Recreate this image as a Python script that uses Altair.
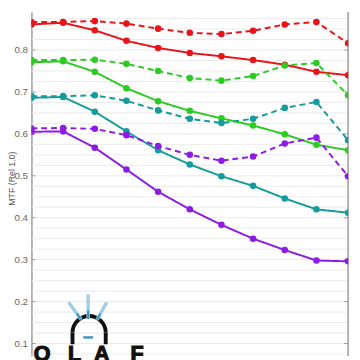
import math
import altair as alt
import pandas as pd

# ---- data ----
X = [0, 1, 2, 3, 4, 5, 6, 7, 8, 9, 10]
RED_SOLID = [0.861, 0.865, 0.847, 0.822, 0.805, 0.793, 0.785, 0.776, 0.765, 0.748, 0.740]
RED_DASH = [0.867, 0.867, 0.869, 0.863, 0.851, 0.841, 0.838, 0.846, 0.861, 0.867, 0.816]
GREEN_SOLID = [0.771, 0.773, 0.748, 0.709, 0.678, 0.655, 0.637, 0.620, 0.599, 0.574, 0.561]
GREEN_DASH = [0.776, 0.776, 0.777, 0.767, 0.750, 0.733, 0.727, 0.738, 0.763, 0.769, 0.692]
TEAL_SOLID = [0.686, 0.688, 0.653, 0.606, 0.561, 0.527, 0.499, 0.476, 0.446, 0.420, 0.412]
TEAL_DASH = [0.690, 0.690, 0.692, 0.679, 0.656, 0.636, 0.626, 0.636, 0.662, 0.676, 0.585]
PURPLE_SOLID = [0.605, 0.606, 0.567, 0.515, 0.462, 0.420, 0.383, 0.350, 0.323, 0.298, 0.296]
PURPLE_DASH = [0.613, 0.614, 0.612, 0.597, 0.571, 0.550, 0.536, 0.546, 0.577, 0.591, 0.499]
X_BLACK = [8, 9, 10]
BLACK_SOLID = [0.930, 0.909, 0.908]

TICK_VALUES = [0.1, 0.2, 0.3, 0.4, 0.5, 0.6, 0.7, 0.8]
GRID_VALUES = [0.075, 0.1, 0.125, 0.15, 0.175, 0.2, 0.225, 0.25, 0.275, 0.3, 0.325,
               0.35, 0.375, 0.4, 0.425, 0.45, 0.475, 0.5, 0.525, 0.55, 0.575, 0.6,
               0.625, 0.65, 0.675, 0.7, 0.725, 0.75, 0.775, 0.8, 0.825, 0.85, 0.875]
LOGO_LETTERS = ["O", "L", "A", "F"]
Y_TITLE = "MTF (Rel 1.0)"

# ---- build tables ----
rows = []
for name, kind, xs, vals in [
    ("red", "solid", X, RED_SOLID), ("red", "dashed", X, RED_DASH),
    ("green", "solid", X, GREEN_SOLID), ("green", "dashed", X, GREEN_DASH),
    ("teal", "solid", X, TEAL_SOLID), ("teal", "dashed", X, TEAL_DASH),
    ("purple", "solid", X, PURPLE_SOLID), ("purple", "dashed", X, PURPLE_DASH),
    ("black", "solid", X_BLACK, BLACK_SOLID),
]:
    for x, v in zip(xs, vals):
        rows.append({"x": x, "v": v, "series": name, "kind": kind, "key": name + kind})
df = pd.DataFrame(rows)
df_grid = pd.DataFrame({"v": GRID_VALUES})
df_ticks = pd.DataFrame({"v": TICK_VALUES})
df_one = pd.DataFrame({"k": [0]})

W, H = 324, 352
yscale = alt.Scale(domain=[0.0702, 0.8907], nice=False, zero=False)
xscale = alt.Scale(domain=[0, 10], nice=False)
yaxis = alt.Axis(values=TICK_VALUES, grid=False, ticks=False, domain=True,
                 domainColor="#9a9a9a", domainWidth=1.5, labelColor="#666666",
                 labelFontSize=10, labelPadding=4, labelFont="Liberation Sans",
                 titleFont="Liberation Sans", titleFontSize=9, titleFontWeight="normal",
                 titleColor="#555555", titleX=-15, titleY=170, titleAngle=270)

def Y(field="v"):
    return alt.Y(field + ":Q", scale=yscale, axis=yaxis, title=Y_TITLE)

color = alt.Color("series:N", legend=None, scale=alt.Scale(
    domain=["red", "green", "teal", "purple", "black"],
    range=["#e8141a", "#2ccb22", "#169b9b", "#8c1be4", "#000000"]))
dash = alt.StrokeDash("kind:N", legend=None, scale=alt.Scale(
    domain=["solid", "dashed"], range=[[1, 0], [6, 4]]))

grid = alt.Chart(df_grid).mark_rule(color="#ebebeb", strokeWidth=1).encode(
    y=Y(), x=alt.value(0), x2=alt.value(W))

lines = alt.Chart(df).mark_line(strokeWidth=2, clip=True).encode(
    x=alt.X("x:Q", scale=xscale, axis=None), y=Y(), color=color, strokeDash=dash,
    detail="key:N")
points = alt.Chart(df).mark_circle(size=45, opacity=1, clip=True).encode(
    x=alt.X("x:Q", scale=xscale, axis=None), y=Y(), color=color)

ticks_l = alt.Chart(df_ticks).mark_rule(color="#9a9a9a", strokeWidth=1).encode(
    y=Y(), x=alt.value(0), x2=alt.value(4))
ticks_r = alt.Chart(df_ticks).mark_rule(color="#9a9a9a", strokeWidth=1).encode(
    y=Y(), x=alt.value(W - 4), x2=alt.value(W))
right_axis = alt.Chart(df_one).mark_rule(color="#9a9a9a", strokeWidth=1.5).encode(
    x=alt.value(W), y=alt.value(0), y2=alt.value(H))

# ---- logo (decoration) ----
logo = []
for letter, lx in zip(LOGO_LETTERS, [11, 44, 72, 108]):
    logo.append(alt.Chart(df_one).mark_text(
        fontSize=22, fontWeight="bold", font="Liberation Sans", color="#111111",
        stroke="#111111", strokeWidth=1.2,
        baseline="alphabetic", align="center").encode(
        text=alt.value(letter), x=alt.value(lx), y=alt.value(357)))
logo.append(alt.Chart(df_one).mark_arc(
    theta=3 * math.pi / 2, theta2=5 * math.pi / 2, radius=19, radius2=15,
    color="#111111").encode(x=alt.value(59), y=alt.value(328)))
for lx in [42, 76]:
    logo.append(alt.Chart(df_one).mark_rule(color="#111111", strokeWidth=4).encode(
        x=alt.value(lx), x2=alt.value(lx), y=alt.value(328), y2=alt.value(340)))
logo.append(alt.Chart(df_one).mark_rule(color="#3f93c3", strokeWidth=2.5).encode(
    x=alt.value(53), x2=alt.value(63), y=alt.value(333), y2=alt.value(333)))
for (x1, y1, x2, y2) in [(51, 315, 38, 297), (58, 314, 58, 289), (67, 315, 77, 297)]:
    logo.append(alt.Chart(df_one).mark_rule(color="#a3cde3", strokeWidth=3.5).encode(
        x=alt.value(x1), y=alt.value(y1), x2=alt.value(x2), y2=alt.value(y2)))
    logo.append(alt.Chart(df_one).mark_rule(color="#3f8fbf", strokeWidth=2).encode(
        x=alt.value(x1), y=alt.value(y1),
        x2=alt.value(x1 + (x2 - x1) * 0.35), y2=alt.value(y1 + (y2 - y1) * 0.35)))

chart = alt.layer(grid, right_axis, ticks_l, ticks_r, lines, points, *logo).properties(
    width=W, height=H,
    autosize=alt.AutoSizeParams(type="none"),
    padding={"left": 24, "top": 0, "right": 4, "bottom": 0},
    background="white",
).configure_view(stroke=None)

chart.save("out.html", embed_options={"renderer": "svg", "actions": False})
